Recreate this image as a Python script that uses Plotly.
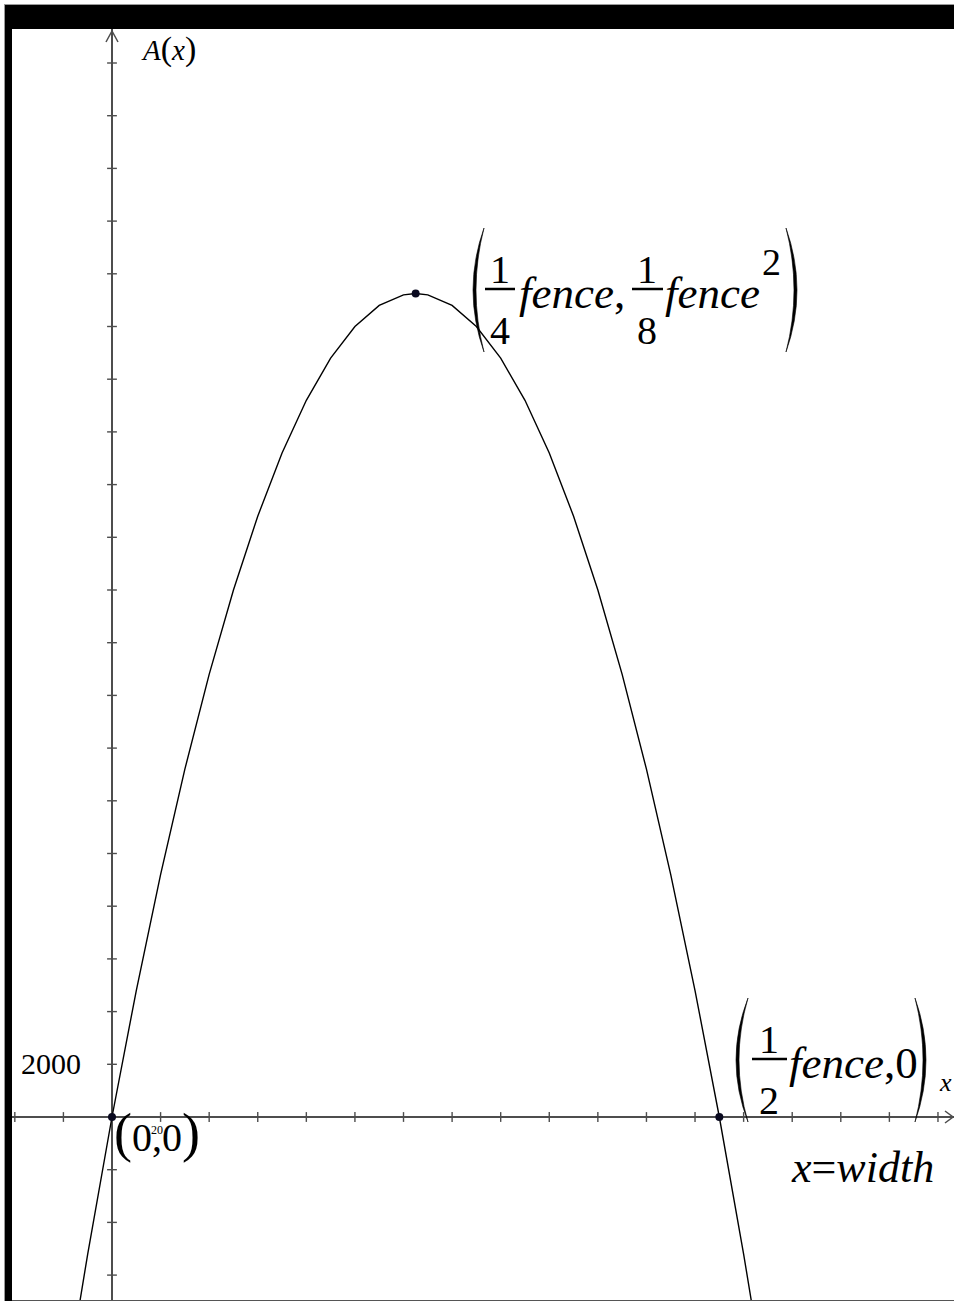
import plotly.graph_objects as go

W, H = 954, 1301

# ---- data: A(x) = area for width x, fence = 500
width_x = [-20, -10, 0, 10, 20, 30, 40, 50, 60, 70, 80, 90, 100, 110, 120, 125,
           130, 140, 150, 160, 170, 180, 190, 200, 210, 220, 230, 240, 250, 260, 270]
area_A = [-10800, -5200, 0, 4800, 9200, 13200, 16800, 20000, 22800, 25200, 27200,
          28800, 30000, 30800, 31200, 31250, 31200, 30800, 30000, 28800, 27200,
          25200, 22800, 20000, 16800, 13200, 9200, 4800, 0, -5200, -10800]
key_x = [0, 125, 250]
key_A = [0, 31250, 0]
x_ticks = [v for v in range(-40, 341, 20) if v != 0]
y_ticks = [v for v in range(-6000, 42001, 2000) if v != 0]
x_tick_label = "20"
y_tick_label = "2000"

# ---- layout geometry (pixels)
X_RANGE = [-46.10, 346.6]
Y_RANGE = [-6983, 42391]
AXIS_COL = "#4d4d4d"
SERIF = "Liberation Serif"


def px(x):
    return x / W


def py(y):
    return 1 - y / H


fig = go.Figure()

fig.add_trace(go.Scatter(x=width_x, y=area_A, mode="lines",
                         line=dict(color="black", width=1.4), hoverinfo="skip"))
fig.add_trace(go.Scatter(x=x_ticks, y=[0] * len(x_ticks), mode="markers",
                         marker=dict(symbol="line-ns", size=7,
                                     line=dict(width=1.4, color=AXIS_COL)),
                         hoverinfo="skip"))
fig.add_trace(go.Scatter(x=[0] * len(y_ticks), y=y_ticks, mode="markers",
                         marker=dict(symbol="line-ew", size=7,
                                     line=dict(width=1.4, color=AXIS_COL)),
                         hoverinfo="skip"))
fig.add_trace(go.Scatter(x=key_x, y=key_A, mode="markers",
                         marker=dict(size=8, color="#0a0a20"), hoverinfo="skip"))

annotations = []


def text(s, x, baseline, size, anchor="left"):
    bottom = baseline + 0.216 * size + 1
    annotations.append(dict(text=s, x=px(x), y=py(bottom), xref="paper", yref="paper",
                            xanchor=anchor, yanchor="bottom", showarrow=False,
                            font=dict(family=SERIF, size=size, color="black")))


shapes = []


def line_px(x0, y0, x1, y1, w=2.5, color="black"):
    shapes.append(dict(type="line", xref="paper", yref="paper",
                       x0=px(x0), y0=py(y0), x1=px(x1), y1=py(y1),
                       line=dict(color=color, width=w)))


def rect_px(x0, y0, x1, y1, color):
    shapes.append(dict(type="rect", xref="paper", yref="paper",
                       x0=px(x0), y0=py(y0), x1=px(x1), y1=py(y1),
                       line=dict(width=0), fillcolor=color, layer="above"))


def paren(xe, xext, top, bottom, thick):
    mid = (top + bottom) / 2
    c_out = 2 * xext - xe
    sign = 1 if xext < xe else -1
    c_in = 2 * (xext + sign * thick) - xe
    p = (f"M {px(xe)},{py(top)} Q {px(c_out)},{py(mid)} {px(xe)},{py(bottom)} "
         f"Q {px(c_in)},{py(mid)} {px(xe)},{py(top)} Z")
    shapes.append(dict(type="path", xref="paper", yref="paper", path=p,
                       fillcolor="black", line=dict(color="black", width=0.6)))


def path_px(points, color=AXIS_COL, w=1.5):
    p = "M " + " L ".join(f"{px(a)},{py(b)}" for a, b in points)
    shapes.append(dict(type="path", xref="paper", yref="paper", path=p,
                       line=dict(color=color, width=w)))


# arrows on axes
path_px([(106, 42), (112, 31), (118, 42)])
path_px([(945, 1111), (953, 1117), (945, 1123)])

# vertex label
paren(484, 473, 228, 352, 3)
text("1", 500, 284, 40, "center")
line_px(485, 289, 515, 289)
text("4", 500, 345, 40, "center")
text("<i>fence</i>,", 517, 309, 45)
text("1", 647, 284, 40, "center")
line_px(632, 289, 663, 289)
text("8", 647, 345, 40, "center")
text("<i>fence</i>", 663, 309, 45)
text("2", 760, 276, 38)
paren(786, 797, 228, 352, 3)

# root label
off = 770
paren(748, 736, 228 + off, 352 + off, 3)
text("1", 769, 284 + off, 40, "center")
line_px(752, 289 + off, 787, 289 + off)
text("2", 769, 345 + off, 40, "center")
text("<i>fence</i>,0", 787, 309 + off, 45)
paren(915, 926, 228 + off, 352 + off, 3)

# origin label and tick labels
text(x_tick_label, 149, 1135, 12)
text("<span style='font-size:54px'>(</span>0,0<span style='font-size:54px'>)</span>",
     112, 1155, 40)
text(y_tick_label, 19, 1075, 30)
text("<i>A</i><span style='font-size:34px'>(</span><i>x</i><span style='font-size:34px'>)</span>",
     139, 63, 29)
text("<i>x</i>=<i>width</i>", 789, 1183, 44)
text("<i>x</i>", 937, 1092, 26)

# frame
rect_px(0, 0, W, 4.5, "white")
rect_px(0, 0, 4.5, H, "white")
line_px(4, 4.5, W, 4.5, w=1, color="#9a9a9a")
line_px(4.5, 4, 4.5, H, w=1, color="#9a9a9a")
rect_px(5, 5, W, 29, "black")
rect_px(5, 5, 12, H, "black")
line_px(12, 1300.5, W, 1300.5, w=1, color="#555555")

fig.update_layout(
    width=W, height=H, margin=dict(l=0, r=0, t=0, b=0),
    paper_bgcolor="white", plot_bgcolor="white", showlegend=False,
    annotations=annotations, shapes=shapes,
    xaxis=dict(range=X_RANGE, showgrid=False, showticklabels=False, ticks="",
               zeroline=True, zerolinecolor=AXIS_COL, zerolinewidth=1.5, fixedrange=True),
    yaxis=dict(range=Y_RANGE, showgrid=False, showticklabels=False, ticks="",
               zeroline=True, zerolinecolor=AXIS_COL, zerolinewidth=1.5, fixedrange=True),
)

fig.write_html("out.html", config={"displayModeBar": False},
               post_script="document.body.style.margin='0';"
                           "document.body.style.overflow='hidden';")
